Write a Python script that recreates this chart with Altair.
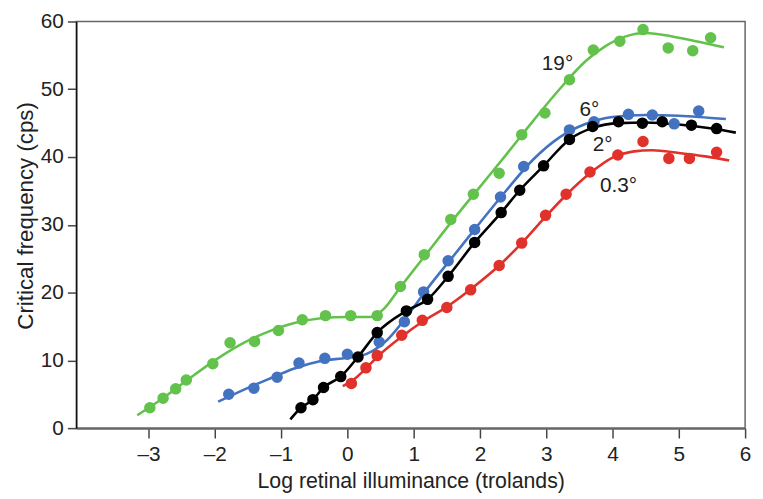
import altair as alt
import pandas as pd

# ---- data: measured points ----
g_x = [-2.98, -2.78, -2.59, -2.43, -2.03, -1.77, -1.40, -1.04, -0.68, -0.33, 0.05, 0.45,
       0.80, 1.16, 1.56, 1.90, 2.29, 2.63, 2.98, 3.35, 3.71, 4.11, 4.46, 4.84, 5.21, 5.48]
g_y = [3.0, 4.4, 5.8, 7.1, 9.5, 12.6, 12.8, 14.4, 16.0, 16.6, 16.6, 16.6,
       20.9, 25.6, 30.8, 34.5, 37.6, 43.3, 46.5, 51.4, 55.8, 57.1, 58.8, 56.1, 55.7, 57.6]

b_x = [-1.79, -1.41, -1.06, -0.73, -0.34, 0.0, 0.48, 0.86, 1.15, 1.52, 1.92, 2.31, 2.66,
       3.35, 3.72, 4.24, 4.60, 4.93, 5.30]
b_y = [5.0, 5.9, 7.5, 9.6, 10.3, 10.9, 12.7, 15.7, 20.1, 24.7, 29.3, 34.1, 38.6,
       44.0, 45.2, 46.3, 46.2, 44.9, 46.8]

k_x = [-0.70, -0.52, -0.36, -0.10, 0.16, 0.45, 0.89, 1.21, 1.52, 1.92, 2.32, 2.60, 2.96,
       3.35, 3.70, 4.09, 4.45, 4.75, 5.19, 5.57]
k_y = [3.0, 4.2, 6.0, 7.6, 10.5, 14.1, 17.3, 19.0, 22.4, 27.4, 31.8, 35.1, 38.7,
       42.6, 44.5, 45.2, 45.0, 45.2, 44.7, 44.2]

r_x = [0.06, 0.28, 0.45, 0.82, 1.13, 1.50, 1.86, 2.29, 2.63, 2.99, 3.30, 3.66, 4.08,
       4.46, 4.85, 5.16, 5.57]
r_y = [6.6, 8.9, 10.7, 13.7, 15.9, 17.8, 20.4, 24.0, 27.3, 31.4, 34.5, 37.8, 40.3,
       42.3, 39.8, 39.8, 40.7]

# ---- data: fitted curves ----
gc_x = [-3.17, -2.8, -2.4, -2.0, -1.6, -1.2, -0.8, -0.4, 0.0, 0.35, 0.55, 0.8, 1.2, 1.6,
        2.0, 2.4, 2.8, 3.2, 3.6, 3.9, 4.2, 4.5, 4.9, 5.3, 5.68]
gc_y = [1.9, 4.3, 7.2, 10.0, 12.4, 14.2, 15.5, 16.2, 16.4, 16.4, 17.6, 20.8, 25.8, 30.8,
        35.6, 40.4, 45.3, 50.0, 54.2, 56.4, 57.8, 58.3, 57.8, 57.0, 56.2]

bc_x = [-1.95, -1.6, -1.2, -0.8, -0.4, 0.0, 0.3, 0.6, 0.9, 1.2, 1.6, 2.0, 2.4, 2.8, 3.2,
        3.6, 4.0, 4.5, 5.0, 5.71]
bc_y = [3.9, 5.5, 7.2, 8.8, 9.9, 10.4, 11.0, 13.0, 16.5, 20.5, 25.4, 30.3, 35.1, 39.6, 42.9,
        44.9, 45.9, 46.2, 46.1, 45.6]

kc_x = [-0.86, -0.70, -0.52, -0.36, -0.10, 0.16, 0.45, 0.89, 1.21, 1.52, 1.92, 2.32, 2.60,
        2.96, 3.35, 3.70, 4.1, 4.5, 5.0, 5.5, 5.86]
kc_y = [1.3, 3.0, 4.2, 6.0, 7.6, 10.5, 14.1, 17.3, 19.0, 22.4, 27.4, 31.8, 35.1,
        38.7, 42.6, 44.3, 45.0, 45.1, 44.8, 44.2, 43.6]

rc_x = [-0.07, 0.06, 0.28, 0.45, 0.82, 1.13, 1.50, 1.86, 2.29, 2.63, 2.99, 3.30, 3.66, 4.0,
        4.3, 4.6, 5.0, 5.4, 5.76]
rc_y = [6.2, 6.9, 8.8, 10.5, 13.5, 15.7, 17.9, 20.5, 24.0, 27.3, 31.2, 34.4, 37.6, 39.9,
        40.8, 41.0, 40.6, 40.1, 39.5]

series = ["19°", "6°", "2°", "0.3°"]
colors = ["#62C24B", "#4372C0", "#000000", "#E0312A"]

label_x = [3.17, 3.65, 3.85, 4.09]
label_y = [53.7, 47.0, 41.7, 35.7]

x_ticks = [-3, -2, -1, 0, 1, 2, 3, 4, 5, 6]
y_ticks = [0, 10, 20, 30, 40, 50, 60]

pts = []
for s, xs, ys in zip(series, [g_x, b_x, k_x, r_x], [g_y, b_y, k_y, r_y]):
    for a, b in zip(xs, ys):
        pts.append({"series": s, "x": a, "y": b})
pts = pd.DataFrame(pts)

crv = []
for s, xs, ys in zip(series, [gc_x, bc_x, kc_x, rc_x], [gc_y, bc_y, kc_y, rc_y]):
    for i, (a, b) in enumerate(zip(xs, ys)):
        crv.append({"series": s, "x": a, "y": b, "o": i})
crv = pd.DataFrame(crv)

labels = pd.DataFrame({"x": label_x, "y": label_y, "t": series})

FONT = "Liberation Sans"

xenc = alt.X("x:Q",
             scale=alt.Scale(domain=[-4.09, 6], nice=False, zero=False),
             axis=alt.Axis(values=x_ticks, title="Log retinal illuminance (trolands)",
                           labelExpr="datum.value < 0 ? '\u2013' + abs(datum.value) : format(datum.value, 'd')",
                           labelFlush=False,
                           tickSize=10, labelPadding=6, titlePadding=6, titleFontSize=21.5,
                           domainColor="#666666", domainWidth=2.5,
                           tickColor="#444444", tickWidth=1.5))
yenc = alt.Y("y:Q",
             scale=alt.Scale(domain=[0, 60], nice=False, zero=False),
             axis=alt.Axis(values=y_ticks, title="Critical frequency (cps)",
                           tickSize=9, labelPadding=4, titlePadding=3, titleFontSize=22.5,
                           titleY=196,
                           domainColor="#111111", domainWidth=1.5,
                           tickColor="#444444", tickWidth=1.5))
cenc = alt.Color("series:N", scale=alt.Scale(domain=series, range=colors), legend=None)

lines = alt.Chart(crv).mark_line(strokeWidth=2.6, interpolate="monotone").encode(
    x=xenc, y=yenc, color=cenc, detail="series:N", order="o:Q")
points = alt.Chart(pts).mark_circle(size=135, opacity=1).encode(
    x=alt.X("x:Q"), y=alt.Y("y:Q"), color=cenc)
texts = alt.Chart(labels).mark_text(font=FONT, fontSize=21, color="#222222",
                                    align="center", baseline="middle").encode(
    x="x:Q", y="y:Q", text="t:N")

chart = alt.layer(lines, points, texts).properties(
    width=676, height=411,
    autosize=alt.AutoSizeParams(type="none"),
    padding={"left": 69, "top": 11, "right": 10, "bottom": 69},
).configure_axis(
    grid=False, labelFont=FONT, titleFont=FONT, labelFontSize=21, titleFontSize=21,
    labelColor="#222222", titleColor="#222222", titleFontWeight="normal",
).configure_view(stroke="#666666", strokeWidth=1.5)

chart.save("out.html", embed_options={"renderer": "svg", "actions": False})
